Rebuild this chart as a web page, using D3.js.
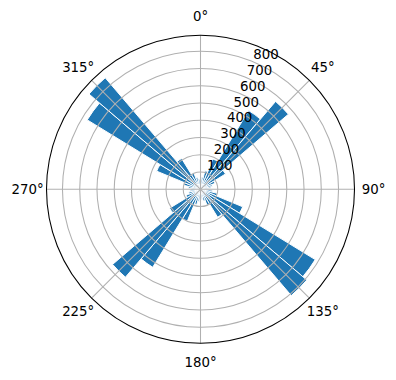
<!DOCTYPE html>
<html>
<head>
<meta charset="utf-8">
<script src="https://cdn.jsdelivr.net/npm/d3@7"></script>
<style>
  body { margin: 0; background: #fff; }
  svg { display: block; font-family: "DejaVu Sans", sans-serif; }
</style>
</head>
<body>
<svg id="chart"></svg>
<script>
// bin centres in degrees (clockwise from north) and counts per bin
var binAngles = d3.range(0, 360, 9);
var binCounts = [
  60, 70, 110, 190, 535, 670, 170, 90, 70, 60,
  55, 70, 100, 265, 780, 810, 190, 100, 70, 55,
  60, 70, 90, 200, 530, 670, 210, 90, 70, 60,
  55, 70, 100, 275, 770, 850, 210, 100, 70, 60
];
var rTicks = [100, 200, 300, 400, 500, 600, 700, 800];
var thetaTicks = [0, 45, 90, 135, 180, 225, 270, 315];

var W = 396, H = 380;
var cx = 200.5, cy = 189.3, R = 154;
var binWidth = 9;

var svg = d3.select("#chart").attr("width", W).attr("height", H);

var r = d3.scaleLinear()
  .domain([0, d3.max(binCounts) * 1.05])
  .range([0, R]);

var rad = function(deg) { return deg * Math.PI / 180; };

var g = svg.append("g").attr("transform", "translate(" + cx + "," + cy + ")");

var arc = d3.arc()
  .innerRadius(0)
  .outerRadius(function(d) { return r(d.value); })
  .startAngle(function(d) { return rad(d.angle - binWidth / 2); })
  .endAngle(function(d) { return rad(d.angle + binWidth / 2); });

var bins = binAngles.map(function(a, i) { return { angle: a, value: binCounts[i] }; });

g.selectAll("path.bar")
  .data(bins)
  .enter().append("path")
  .attr("class", "bar")
  .attr("d", arc)
  .style("fill", "#1f77b4")
  .style("stroke", "#ffffff")
  .style("stroke-width", 1);

// grid circles
g.selectAll("circle.grid")
  .data(rTicks)
  .enter().append("circle")
  .attr("class", "grid")
  .attr("r", function(d) { return r(d); })
  .style("fill", "none")
  .style("stroke", "#b0b0b0")
  .style("stroke-width", 1.07);

// angular grid lines
g.selectAll("line.grid")
  .data(thetaTicks)
  .enter().append("line")
  .attr("class", "grid")
  .attr("x1", 0).attr("y1", 0)
  .attr("x2", function(d) { return R * Math.sin(rad(d)); })
  .attr("y2", function(d) { return -R * Math.cos(rad(d)); })
  .style("stroke", "#b0b0b0")
  .style("stroke-width", 1.07);

// outer spine
g.append("circle")
  .attr("r", R)
  .style("fill", "none")
  .style("stroke", "#000")
  .style("stroke-width", 1.07);

// theta labels
g.selectAll("text.theta")
  .data(thetaTicks)
  .enter().append("text")
  .attr("class", "theta")
  .attr("x", function(d) { return 173 * Math.sin(rad(d)); })
  .attr("y", function(d) { return -173 * Math.cos(rad(d)); })
  .attr("dy", "0.35em")
  .attr("text-anchor", "middle")
  .style("font-size", "13.33px")
  .style("fill", "#000")
  .text(function(d) { return d + "°"; });

// radial labels at 22.5 deg
var la = rad(22.5);
g.selectAll("text.rlab")
  .data(rTicks)
  .enter().append("text")
  .attr("class", "rlab")
  .attr("x", function(d) { return r(d) * Math.sin(la); })
  .attr("y", function(d) { return -r(d) * Math.cos(la) - 3.1; })
  .attr("text-anchor", "start")
  .style("font-size", "13.33px")
  .style("fill", "#000")
  .text(function(d) { return d; });
</script>
</body>
</html>
